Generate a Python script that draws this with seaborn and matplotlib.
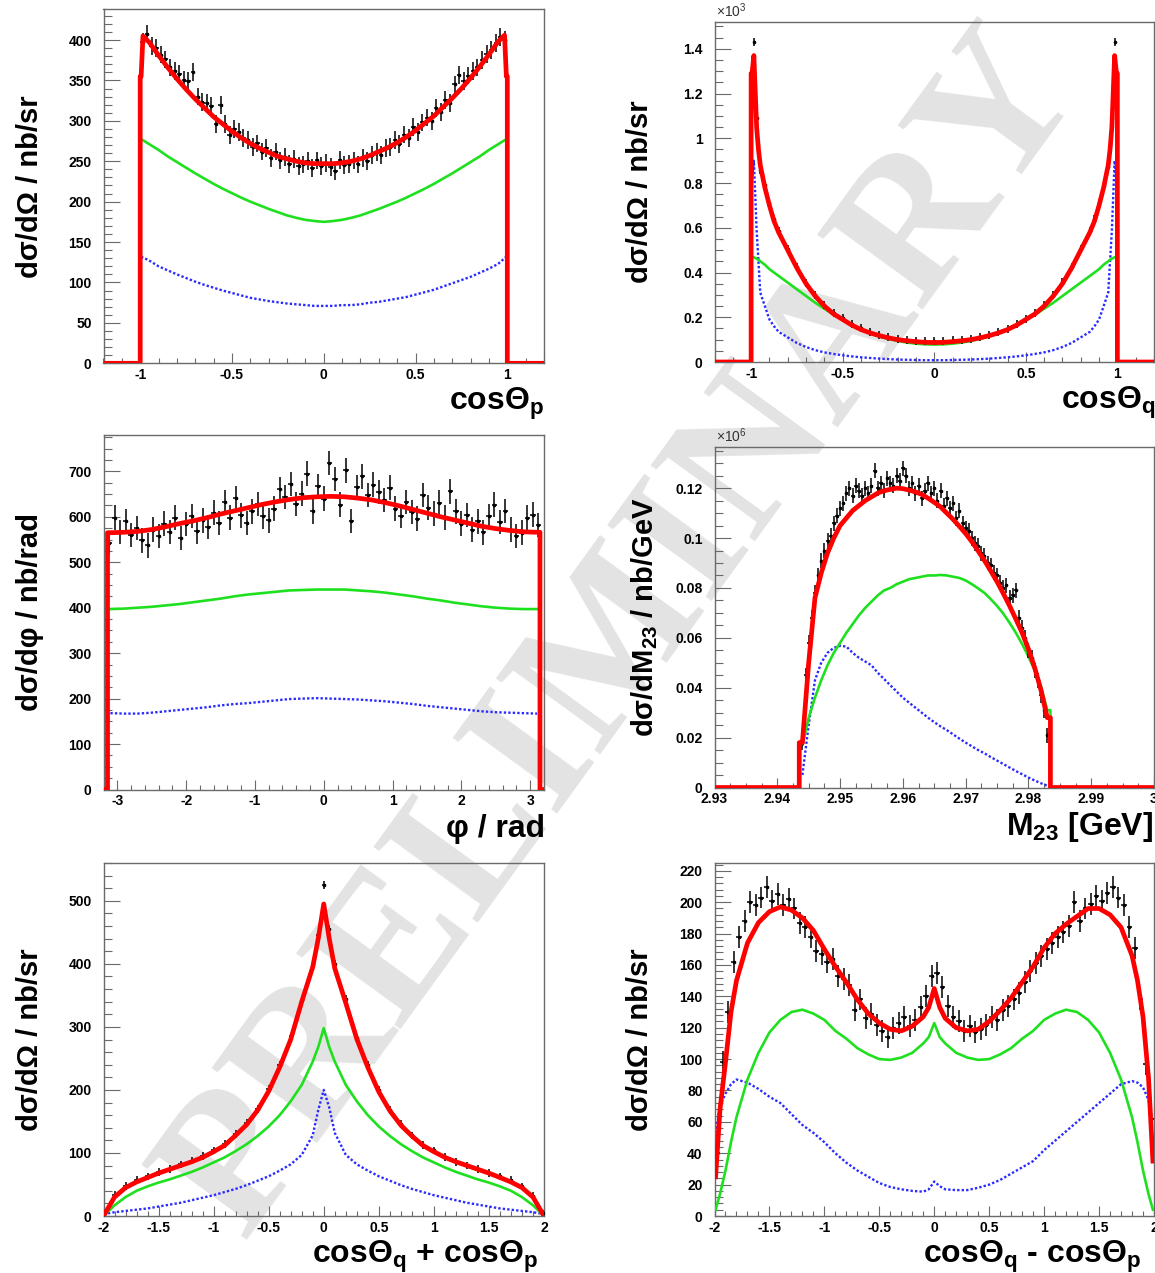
import numpy as np
import matplotlib
matplotlib.use("Agg")
import matplotlib.pyplot as plt
import seaborn as sns
from matplotlib.ticker import MultipleLocator

# ---------------------------------------------------------------- data
# cos(theta_p)
cosp_x = [-0.995, -0.985, -0.95, -0.90, -0.85, -0.80, -0.75, -0.70, -0.65, -0.60, -0.55,
          -0.50, -0.45, -0.40, -0.35, -0.30, -0.25, -0.20, -0.15, -0.10, -0.05, 0.00,
          0.05, 0.10, 0.15, 0.20, 0.25, 0.30, 0.35, 0.40, 0.45, 0.50, 0.55, 0.60, 0.65,
          0.70, 0.75, 0.80, 0.85, 0.90, 0.95, 0.985, 0.995]
cosp_total = [355, 405, 397, 381, 366, 352, 339, 327, 316, 305, 296, 287, 279, 272, 266, 261,
              256, 253, 250, 248, 247, 247, 247, 248, 250, 253, 257, 262, 267, 273, 280, 288,
              297, 306, 317, 328, 340, 353, 367, 382, 398, 406, 355]
cosp_green = [277, 276, 271, 264, 256, 249, 242, 235, 228.5, 222, 216, 210.5, 205, 200, 195.5,
              191, 187, 183, 180, 177.5, 176, 175, 176, 177.5, 180, 183, 187, 191, 195.5, 200,
              205, 210.5, 216, 222, 228.5, 235, 242, 249, 256, 264, 271, 276, 277]
cosp_blue = [130, 131, 127, 120, 115, 110, 105.5, 101, 97, 93.5, 90, 87, 84, 81, 79, 77, 75.5,
             74, 73, 72, 71, 71, 71, 72, 72, 73, 75, 76, 78, 80, 82, 85, 88, 91, 95, 99, 103,
             107, 112, 117, 123, 130, 132]
cosp_data = [398, 408, 393, 390, 382, 376, 366, 362, 358, 351, 349, 360, 330, 323, 322, 318,
             296, 320, 296, 282, 290, 286, 279, 276, 268, 272, 262, 266, 254, 262, 251, 255,
             247, 253, 244, 246, 250, 242, 251, 244, 248, 243, 238, 252, 245, 247, 251, 246,
             254, 250, 258, 261, 258, 266, 268, 276, 271, 283, 279, 292, 286, 298, 304, 300,
             316, 311, 326, 322, 345, 357, 349, 356, 362, 366, 375, 383, 388, 396, 404, 400]

# cos(theta_q)  (x 10^3)
cosq_x = [-0.995, -0.985, -0.97, -0.96, -0.95, -0.925, -0.90, -0.875, -0.85, -0.80, -0.75,
          -0.70, -0.65, -0.60, -0.55, -0.50, -0.45, -0.40, -0.35, -0.30, -0.25, -0.20, -0.15,
          -0.10, -0.05, 0.00, 0.05, 0.10, 0.15, 0.20, 0.25, 0.30, 0.35, 0.40, 0.45, 0.50,
          0.55, 0.60, 0.65, 0.70, 0.75, 0.80, 0.85, 0.875, 0.90, 0.925, 0.95, 0.96, 0.97,
          0.985, 0.995]
cosq_total = [1.29, 1.37, 1.05, 0.95, 0.88, 0.78, 0.70, 0.63, 0.58, 0.50, 0.42, 0.35, 0.295,
              0.25, 0.215, 0.19, 0.165, 0.145, 0.13, 0.118, 0.108, 0.10, 0.095, 0.091, 0.088,
              0.087, 0.088, 0.091, 0.095, 0.10, 0.108, 0.118, 0.13, 0.145, 0.165, 0.19, 0.215,
              0.25, 0.295, 0.35, 0.42, 0.50, 0.58, 0.63, 0.70, 0.78, 0.88, 0.95, 1.05, 1.37, 1.29]
cosq_green = [0.47, 0.468, 0.462, 0.457, 0.45, 0.435, 0.415, 0.40, 0.385, 0.355, 0.325, 0.295,
              0.265, 0.238, 0.212, 0.188, 0.165, 0.145, 0.128, 0.114, 0.103, 0.094, 0.087,
              0.082, 0.079, 0.078, 0.079, 0.082, 0.087, 0.094, 0.103, 0.114, 0.128, 0.145,
              0.165, 0.188, 0.212, 0.238, 0.265, 0.295, 0.325, 0.355, 0.385, 0.40, 0.415,
              0.435, 0.45, 0.457, 0.462, 0.468, 0.47]
cosq_blue = [0.81, 0.90, 0.59, 0.45, 0.31, 0.25, 0.19, 0.16, 0.135, 0.11, 0.085, 0.067, 0.053,
             0.043, 0.036, 0.030, 0.025, 0.021, 0.018, 0.015, 0.013, 0.011, 0.010, 0.009,
             0.008, 0.008, 0.008, 0.009, 0.010, 0.011, 0.013, 0.015, 0.018, 0.021, 0.025,
             0.030, 0.036, 0.043, 0.053, 0.067, 0.085, 0.11, 0.135, 0.16, 0.19, 0.25, 0.31,
             0.45, 0.59, 0.90, 0.81]
cosq_data = [1.24, 1.43, 1.09, 0.97, 0.86, 0.79, 0.71, 0.64, 0.585, 0.505, 0.425, 0.355, 0.30,
             0.255, 0.22, 0.195, 0.17, 0.15, 0.135, 0.122, 0.112, 0.104, 0.099, 0.095, 0.093,
             0.092, 0.094, 0.097, 0.10, 0.104, 0.111, 0.121, 0.134, 0.148, 0.168, 0.193, 0.218,
             0.255, 0.30, 0.356, 0.425, 0.505, 0.585, 0.64, 0.71, 0.79, 0.87, 0.97, 1.09, 1.43,
             1.24]

# phi
phi_x = [-3.1, -2.9, -2.7, -2.5, -2.3, -2.1, -1.9, -1.7, -1.5, -1.3, -1.1, -0.9, -0.7, -0.5,
         -0.3, -0.1, 0.1, 0.3, 0.5, 0.7, 0.9, 1.1, 1.3, 1.5, 1.7, 1.9, 2.1, 2.3, 2.5, 2.7,
         2.9, 3.1]
phi_total = [565, 566, 568, 572, 578, 585, 591, 598, 606, 613, 620, 627, 633, 638, 642, 644,
             645, 644, 641, 637, 631, 624, 616, 608, 600, 593, 586, 579, 574, 570, 567, 566]
phi_green = [397, 398, 400, 402, 405, 408, 412, 416, 420, 425, 429, 432, 435, 438, 439, 440,
             440, 440, 438, 436, 433, 429, 425, 420, 416, 411, 407, 403, 400, 398, 397, 397]
phi_blue = [168, 167, 167, 169, 172, 175, 178, 181, 185, 188, 190, 193, 196, 199, 200, 201,
            200, 199, 198, 196, 194, 191, 188, 184, 181, 178, 175, 172, 170, 169, 168, 167]
phi_data = [542, 598, 567, 590, 560, 575, 548, 537, 572, 558, 585, 567, 598, 553, 584, 602,
            568, 592, 578, 609, 586, 632, 598, 641, 603, 586, 612, 628, 601, 592, 618, 661,
            644, 672, 628, 651, 695, 612, 668, 640, 718, 683, 627, 702, 591, 666, 689, 648,
            671, 655, 637, 664, 618, 602, 633, 611, 596, 648, 620, 607, 631, 598, 656, 612,
            585, 604, 572, 590, 566, 601, 627, 589, 613, 572, 558, 565, 598, 605, 582]

# M23 (x 10^6)
m23_x = [2.944, 2.945, 2.946, 2.947, 2.948, 2.949, 2.950, 2.951, 2.952, 2.953, 2.954, 2.955,
         2.956, 2.957, 2.958, 2.959, 2.960, 2.961, 2.962, 2.963, 2.964, 2.965, 2.966, 2.967,
         2.968, 2.969, 2.970, 2.971, 2.972, 2.973, 2.974, 2.975, 2.976, 2.977, 2.978, 2.979,
         2.980, 2.981, 2.982, 2.983]
m23_total = [0.018, 0.05, 0.076, 0.086, 0.094, 0.100, 0.105, 0.108, 0.111, 0.113, 0.115,
             0.1165, 0.118, 0.119, 0.1195, 0.120, 0.1198, 0.1192, 0.1185, 0.1175, 0.116,
             0.1143, 0.1125, 0.110, 0.1075, 0.1047, 0.1018, 0.0985, 0.0948, 0.091, 0.0868,
             0.0825, 0.0778, 0.0728, 0.0675, 0.062, 0.0555, 0.048, 0.039, 0.028]
m23_green = [0.017, 0.028, 0.036, 0.043, 0.049, 0.054, 0.058, 0.062, 0.0655, 0.069, 0.072,
             0.0745, 0.077, 0.079, 0.080, 0.0815, 0.0825, 0.0835, 0.084, 0.0845, 0.085, 0.085,
             0.0852, 0.085, 0.0845, 0.084, 0.083, 0.0815, 0.0798, 0.078, 0.0755, 0.0728,
             0.0697, 0.066, 0.062, 0.0575, 0.0525, 0.047, 0.0405, 0.031]
m23_blue = [0.005, 0.025, 0.043, 0.050, 0.054, 0.056, 0.0568, 0.0565, 0.054, 0.052, 0.0505,
            0.049, 0.046, 0.0435, 0.041, 0.0385, 0.036, 0.034, 0.032, 0.030, 0.028, 0.0262,
            0.0245, 0.023, 0.0213, 0.0196, 0.018, 0.0165, 0.015, 0.0137, 0.0122, 0.0108,
            0.0094, 0.008, 0.0066, 0.0053, 0.004, 0.0028, 0.0017, 0.0007]
m23_data = [0.018, 0.045, 0.058, 0.068, 0.078, 0.085, 0.091, 0.095, 0.099, 0.101, 0.106,
            0.109, 0.112, 0.114, 0.118, 0.120, 0.117, 0.121, 0.119, 0.117, 0.120, 0.118,
            0.121, 0.127, 0.120, 0.122, 0.119, 0.124, 0.122, 0.121, 0.125, 0.123, 0.128,
            0.125, 0.120, 0.122, 0.118, 0.121, 0.116, 0.119, 0.122, 0.118, 0.120, 0.115,
            0.119, 0.113, 0.116, 0.112, 0.114, 0.108, 0.111, 0.106, 0.104, 0.103, 0.100,
            0.098, 0.097, 0.094, 0.093, 0.090, 0.089, 0.086, 0.085, 0.082, 0.080, 0.081,
            0.076, 0.077, 0.079, 0.068, 0.064, 0.060, 0.055, 0.052, 0.047, 0.043, 0.037,
            0.031, 0.021]

# cos(theta_q) + cos(theta_p)
sum_x = [-2.0, -1.9, -1.8, -1.7, -1.6, -1.5, -1.4, -1.3, -1.2, -1.1, -1.0, -0.9, -0.8, -0.7,
         -0.6, -0.5, -0.4, -0.3, -0.2, -0.1, -0.05, 0.0, 0.05, 0.1, 0.2, 0.3, 0.4, 0.5, 0.6,
         0.7, 0.8, 0.9, 1.0, 1.1, 1.2, 1.3, 1.4, 1.5, 1.6, 1.7, 1.8, 1.9, 2.0]
sum_total = [0, 30, 45, 54, 61, 68, 74, 80, 86, 93, 102, 112, 128, 145, 168, 198, 236, 280,
             340, 395, 440, 495, 440, 393, 338, 281, 236, 197, 167, 144, 127, 112, 102, 93, 86,
             80, 74, 68, 61, 54, 45, 30, 0]
sum_green = [0, 17, 30, 40, 47, 53, 58, 64, 70, 77, 85, 93, 103, 114, 127, 142, 160, 182, 208,
             245, 268, 298, 268, 245, 208, 182, 160, 142, 127, 114, 103, 93, 85, 77, 70, 64,
             58, 53, 47, 40, 30, 17, 0]
sum_blue = [3, 6, 8, 10, 12, 15, 18, 21, 25, 29, 33, 38, 43, 49, 56, 63, 72, 82, 97, 128, 168,
            200, 172, 132, 97, 82, 72, 63, 56, 49, 43, 38, 33, 29, 25, 21, 18, 15, 12, 10, 8,
            6, 3]
sum_data = [3, 33, 48, 57, 63, 70, 75, 82, 88, 95, 104, 114, 130, 148, 170, 202, 240, 285, 342,
            400, 445, 525, 455, 400, 345, 282, 240, 200, 168, 146, 128, 113, 104, 94, 86, 80,
            75, 68, 63, 57, 47, 32, 4]

# cos(theta_q) - cos(theta_p)
diff_x = [-1.99, -1.95, -1.9, -1.85, -1.8, -1.7, -1.6, -1.5, -1.4, -1.3, -1.2, -1.1, -1.0,
          -0.9, -0.8, -0.7, -0.6, -0.5, -0.4, -0.3, -0.2, -0.1, -0.05, 0.0, 0.05, 0.1, 0.2,
          0.3, 0.4, 0.5, 0.6, 0.7, 0.8, 0.9, 1.0, 1.1, 1.2, 1.3, 1.4, 1.5, 1.6, 1.7, 1.8,
          1.85, 1.9, 1.95, 1.99]
diff_total = [25, 68, 98, 130, 150, 174, 187, 194, 197, 195, 190, 182, 170, 159, 149, 138,
              129, 123, 119, 118, 121, 127, 133, 145, 133, 126, 120, 118, 119, 124, 131, 139,
              149, 159, 171, 180, 186, 191, 196, 196, 192, 184, 166, 150, 127, 88, 35]
diff_green = [4, 14, 29, 47, 63, 87, 104, 117, 125, 130, 131.5, 129, 125, 118, 113, 107, 103,
              100, 99.5, 101, 104, 110, 114, 123, 114, 110, 104, 101, 99.5, 100, 103, 107, 113,
              118, 125, 129, 131.5, 130, 125, 117, 104, 87, 63, 47, 29, 14, 4]
diff_blue = [53, 70, 78, 84, 87, 85, 81, 76, 72, 65, 58, 53, 47, 40, 34, 29, 25, 21, 18.5, 17,
             16, 15.5, 17, 22, 19, 17, 16.5, 16.5, 18, 20, 23, 27, 31, 35, 42, 48, 54, 60, 66,
             72, 78, 84, 86, 85, 82, 74, 60]
diff_data = [40, 98, 130, 162, 178, 188, 200, 198, 203, 210, 201, 205, 198, 202, 196, 187,
             184, 178, 169, 167, 162, 164, 153, 151, 147, 131, 138, 126, 129, 122, 118, 114,
             120, 123, 127, 121, 125, 133, 140, 153, 155, 146, 134, 127, 124, 118, 121, 117,
             119, 122, 127, 125, 131, 134, 138, 142, 149, 156, 161, 166, 170, 174, 178, 181,
             185, 200, 188, 196, 199, 204, 201, 206, 210, 203, 198, 184, 171, 138, 97, 62]

# ---------------------------------------------------------------- style
W, H = 1155, 1273
RED, GREEN, BLUE = "#ff0000", "#1fe01f", "#2b2bff"
FRAME = "#6a6a6a"

plt.rcParams["font.family"] = ["Liberation Sans", "DejaVu Sans"]
plt.rcParams["mathtext.fontset"] = "custom"
plt.rcParams["mathtext.rm"] = "Liberation Sans"
plt.rcParams["mathtext.it"] = "Liberation Sans:italic"
plt.rcParams["mathtext.bf"] = "Liberation Sans:bold"

fig = plt.figure(figsize=(W / 100, H / 100), dpi=100)
fig.patch.set_facecolor("white")

# background watermark
fig.text(625 / W, 1 - 635 / H, "PRELIMINARY", rotation=54, ha="center", va="center",
         fontsize=142, color="#e3e3e3", family="Liberation Serif", weight="bold", zorder=-5)


def px_box(left, right, top, bottom):
    return [left / W, 1 - bottom / H, (right - left) / W, (bottom - top) / H]


def with_edges(x, y, edges, xlim):
    x = np.asarray(x, float)
    y = np.asarray(y, float)
    if edges is None:
        return x, y
    lo, hi = edges
    xs = np.concatenate([[xlim[0], lo, lo], x, [hi, hi, xlim[1]]])
    ys = np.concatenate([[0, 0, y[0]], y, [y[-1], 0, 0]])
    return xs, ys


def draw_panel(p):
    ax = fig.add_axes(px_box(*p["box"]))
    ax.set_facecolor("none")
    xlim, ylim = p["xlim"], p["ylim"]

    bx, by = np.asarray(p["x"]), np.asarray(p["blue"])
    sns.lineplot(x=bx, y=by, sort=False, estimator=None, color=BLUE, linewidth=1.7,
                 linestyle=(0, (1.0, 0.9)), ax=ax, zorder=2)
    gx, gy = with_edges(p["x"], p["green"], p["edges"], xlim)
    sns.lineplot(x=gx, y=gy, sort=False, estimator=None, color=GREEN, linewidth=1.9,
                 ax=ax, zorder=3)
    ax.errorbar(p["data_x"], p["data"], yerr=p["err"], xerr=p["xerr"], fmt="o", ms=1.6,
                color="black", ecolor="black", elinewidth=1.1, capsize=0, zorder=4)
    rx, ry = with_edges(p["x"], p["total"], p["edges"], xlim)
    sns.lineplot(x=rx, y=ry, sort=False, estimator=None, color=RED, linewidth=3.4,
                 ax=ax, zorder=5)

    ax.set_xlim(*xlim)
    ax.set_ylim(*ylim)
    ax.set_xlabel("")
    ax.set_ylabel("")
    ax.set_xticks(p["xticks"], labels=[f"{t:g}" for t in p["xticks"]],
                  fontweight="bold", fontsize=10)
    ax.set_yticks(p["yticks"], labels=[f"{t:g}" for t in p["yticks"]],
                  fontweight="bold", fontsize=10)
    ax.xaxis.set_minor_locator(MultipleLocator(p["xminor"]))
    ax.yaxis.set_minor_locator(MultipleLocator(p["yminor"]))
    ax.tick_params(axis="y", which="major", direction="in", length=11.5, width=0.8,
                   color=FRAME, pad=8.5)
    ax.tick_params(axis="y", which="minor", direction="in", length=5.5, width=0.8,
                   color=FRAME)
    ax.tick_params(axis="x", which="major", direction="in", length=7, width=0.8,
                   color=FRAME, pad=3.5)
    ax.tick_params(axis="x", which="minor", direction="in", length=3.5, width=0.8,
                   color=FRAME)
    for s in ax.spines.values():
        s.set_color(FRAME)
        s.set_linewidth(1.0)

    left, right, top, bottom = p["box"]
    if p.get("mult"):
        fig.text((left + 1) / W, 1 - (top - 2) / H, p["mult"], ha="left", va="bottom",
                 fontsize=10, color="#333333")
    fig.text(p["ylab_x"] / W, 1 - ((top + bottom) / 2) / H, p["ylabel"], rotation=90,
             ha="center", va="center", fontsize=21, fontweight="bold")
    fig.text(p["xlab_r"] / W, 1 - (bottom + 47) / H, p["xlabel"], ha="right",
             va="baseline", fontsize=23, fontweight="bold")
    return ax


panels = [
    dict(box=(103.5, 544, 9.3, 363.3), xlim=(-1.2, 1.2), ylim=(0, 438), edges=(-1, 1),
         x=cosp_x, total=cosp_total, green=cosp_green, blue=cosp_blue,
         data_x=np.arange(80) * 0.025 - 0.9875, data=cosp_data, err=11, xerr=0.0125,
         xticks=[-1, -0.5, 0, 0.5, 1], yticks=list(range(0, 401, 50)), xminor=0.1, yminor=10,
         ylabel="dσ/dΩ / nb/sr", ylab_x=30, xlabel=r"cosΘ$_{\mathbf{p}}$", xlab_r=544),
    dict(box=(714.5, 1154, 22, 362), xlim=(-1.2, 1.2), ylim=(0, 1.52), edges=(-1, 1),
         x=cosq_x, total=cosq_total, green=cosq_green, blue=cosq_blue,
         data_x=cosq_x, data=cosq_data, err=0.018, xerr=0.005,
         xticks=[-1, -0.5, 0, 0.5, 1], yticks=[0, 0.2, 0.4, 0.6, 0.8, 1, 1.2, 1.4],
         xminor=0.1, yminor=0.05, mult=r"×10$^{3}$",
         ylabel="dσ/dΩ / nb/sr", ylab_x=640, xlabel=r"cosΘ$_{\mathbf{q}}$", xlab_r=1155),
    dict(box=(103.5, 544, 435, 789.5), xlim=(-3.2, 3.2), ylim=(0, 780),
         edges=(-np.pi, np.pi),
         x=phi_x, total=phi_total, green=phi_green, blue=phi_blue,
         data_x=np.arange(79) * 0.08 - 3.12, data=phi_data, err=27, xerr=0.04,
         xticks=[-3, -2, -1, 0, 1, 2, 3], yticks=list(range(0, 701, 100)), xminor=0.2,
         yminor=25, ylabel="dσ/dφ / nb/rad", ylab_x=30, xlabel="φ / rad", xlab_r=545),
    dict(box=(714.5, 1154, 447, 787.5), xlim=(2.93, 3.0), ylim=(0, 0.1365),
         edges=(2.9435, 2.9835),
         x=m23_x, total=m23_total, green=m23_green, blue=m23_blue,
         data_x=np.arange(79) * 0.0005 + 2.944, data=m23_data, err=0.003, xerr=0.00025,
         xticks=[2.93, 2.94, 2.95, 2.96, 2.97, 2.98, 2.99, 3.0],
         yticks=[0, 0.02, 0.04, 0.06, 0.08, 0.1, 0.12], xminor=0.0025, yminor=0.005,
         mult=r"×10$^{6}$",
         ylabel=r"dσ/dM$_{\mathbf{23}}$ / nb/GeV", ylab_x=645,
         xlabel=r"M$_{\mathbf{23}}$ [GeV]", xlab_r=1153),
    dict(box=(103.5, 544, 863, 1216), xlim=(-2, 2), ylim=(0, 560), edges=None,
         x=sum_x, total=sum_total, green=sum_green, blue=sum_blue,
         data_x=sum_x, data=sum_data, err=6, xerr=0.02,
         xticks=[-2, -1.5, -1, -0.5, 0, 0.5, 1, 1.5, 2], yticks=list(range(0, 501, 100)),
         xminor=0.1, yminor=20, ylabel="dσ/dΩ / nb/sr", ylab_x=30,
         xlabel=r"cosΘ$_{\mathbf{q}}$ + cosΘ$_{\mathbf{p}}$", xlab_r=538),
    dict(box=(714.5, 1154, 863, 1216), xlim=(-2, 2), ylim=(0, 225), edges=None,
         x=diff_x, total=diff_total, green=diff_green, blue=diff_blue,
         data_x=np.arange(80) * 0.05 - 1.975, data=diff_data, err=7, xerr=0.025,
         xticks=[-2, -1.5, -1, -0.5, 0, 0.5, 1, 1.5, 2], yticks=list(range(0, 221, 20)),
         xminor=0.1, yminor=4, ylabel="dσ/dΩ / nb/sr", ylab_x=640,
         xlabel=r"cosΘ$_{\mathbf{q}}$ - cosΘ$_{\mathbf{p}}$", xlab_r=1141),
]

for p in panels:
    draw_panel(p)

fig.savefig("out.png", dpi=100, facecolor="white")
